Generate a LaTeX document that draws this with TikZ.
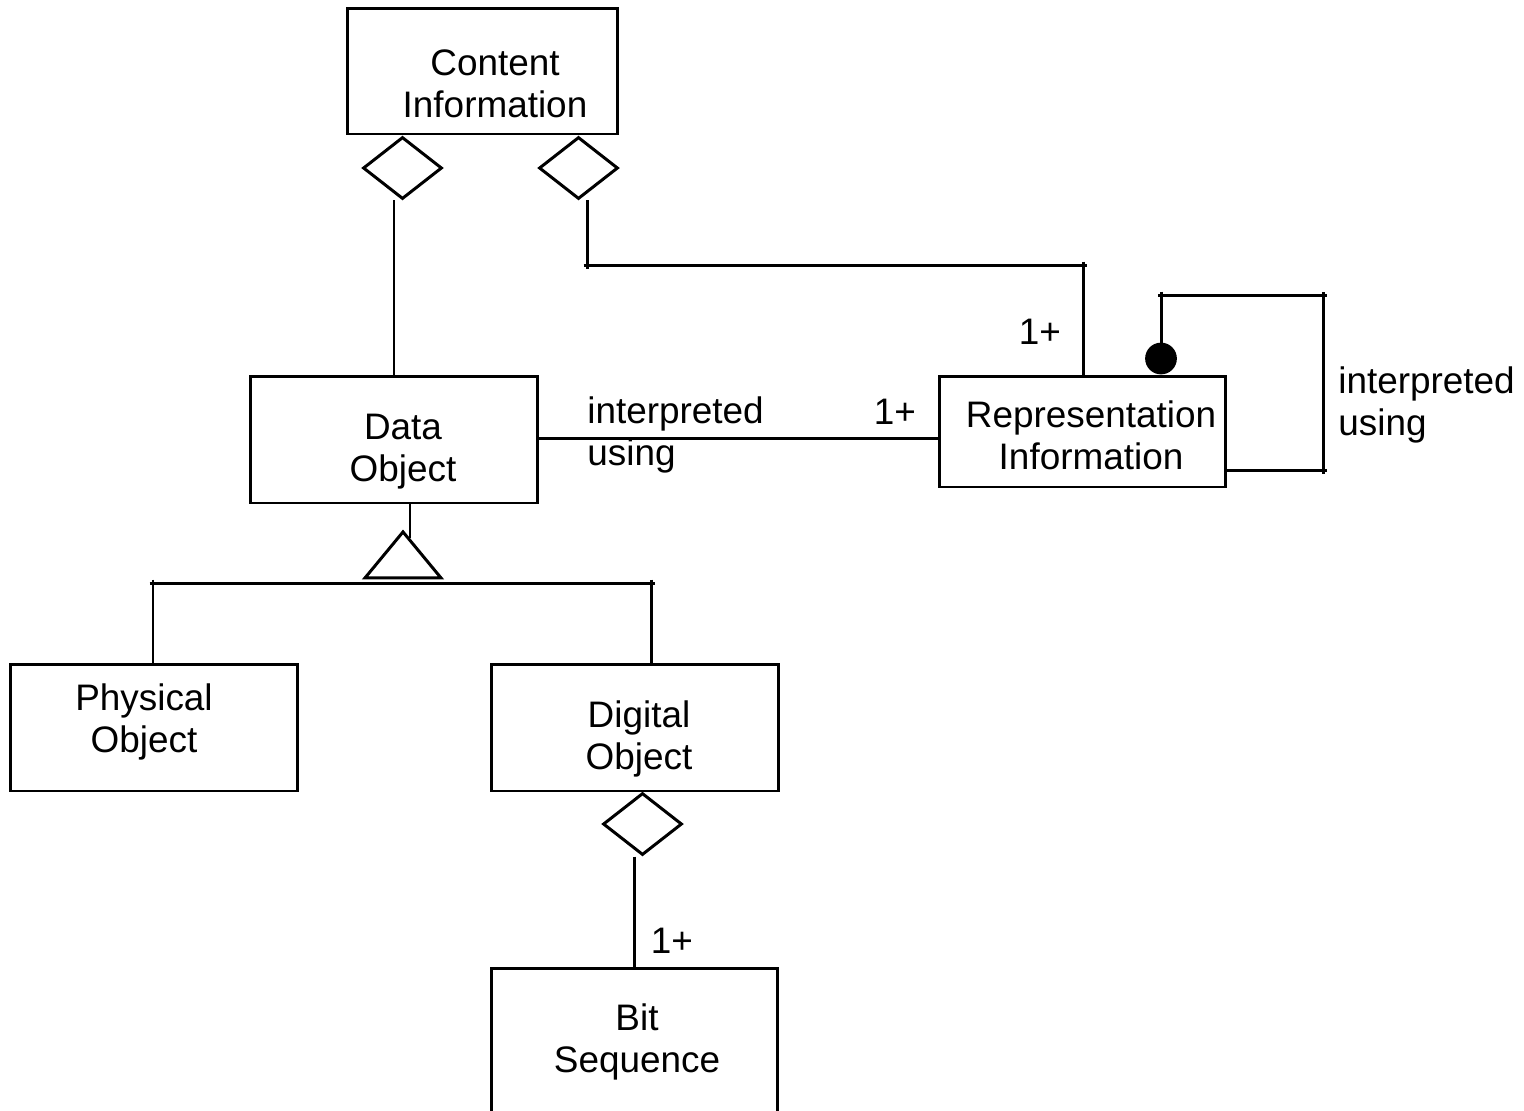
\documentclass[tikz,border=0pt]{standalone}
\usepackage{fontspec}
\setmainfont{Liberation Sans}
\usetikzlibrary{shapes.geometric, positioning}

\begin{document}
\begin{tikzpicture}[
    x=0.02cm, y=-0.02cm,
    every node/.style={font=\fontsize{21}{24}\selectfont},
    box/.style={rectangle, draw, line width=1.7pt, minimum width=5.76cm, minimum height=2.54cm},
    txt/.style={align=center, inner sep=0pt},
    lbl/.style={align=left, inner sep=0pt},
    agg/.style={diamond, draw, line width=1.7pt, fill=white, minimum width=1.58cm, minimum height=1.24cm, inner sep=0pt},
    gen/.style={isosceles triangle, shape border rotate=90, draw, line width=1.7pt, fill=white, minimum width=1.52cm, minimum height=0.92cm, isosceles triangle stretches, inner sep=0pt},
    conn/.style={line width=1.7pt},
    tick/.style={shorten <=-0.07cm},
    tock/.style={shorten >=-0.07cm}
]
\useasboundingbox (0,0) rectangle (1524,1110);
\clip (0,0) rectangle (1524,1110);

% Boxes
\node[box, minimum width=5.42cm, minimum height=2.52cm] (content) at (482.5,71) {};
\node[box] (data) at (394,439.5) {};
\node[box, minimum width=5.74cm, minimum height=2.22cm] (repr) at (1082.5,431.5) {};
\node[box] (physical) at (154,727.5) {};
\node[box] (digital) at (635,727.5) {};
\node[box, minimum width=5.74cm, minimum height=3.4cm] (bits) at (634.5,1053) {};

% Box texts
\node[txt] (content-txt) at (495,84) {Content\\Information};
\node[txt] (data-txt) at (403,452) {Data\\Object};
\node[txt] (repr-txt) at (1091,435) {Representation\\Information};
\node[txt] (physical-txt) at (144,722) {Physical\\Object};
\node[txt] (digital-txt) at (639,739) {Digital\\Object};
\node[txt] (bits-txt) at (637,1042) {Bit\\Sequence};

% Aggregation diamonds and generalization triangle
\node[agg] (agg-data) at (402.5,168) {};
\node[agg] (agg-repr) at (578.5,168) {};
\node[agg] (agg-bits) at (642.5,824) {};

% Corner points
\coordinate (c1) at (587,265);
\coordinate (c2) at (1083,265);
\coordinate (c3) at (1323,470);
\coordinate (c4) at (1323,295);
\coordinate (c5) at (1161,295);
\coordinate (c6) at (153,583);
\coordinate (c7) at (651,583);

% Connectors
\draw[conn] (agg-data.south -| 394,0) -- (data.north -| 394,0);
\draw[conn, tock] (agg-repr.south -| c1) -- (c1);
\draw[conn, tick, tock] (c1) -- (c2);
\draw[conn, tick] (c2) -- (repr.north -| c2);
\draw[conn] (data.east |- 0,438) -- (repr.west |- 0,438);
\draw[conn, tock] (repr.east |- c3) -- (c3);
\draw[conn, tick, tock] (c3) -- (c4);
\draw[conn, tick, tock] (c4) -- (c5);
\draw[conn, tick] (c5) -- (1161,343);
\filldraw[line width=1pt] (1161,358.5) circle (0.3cm);
\draw[conn] (data.south -| 410,0) -- (410,538);
\draw[conn, tick, tock] (c6) -- (c7);
\draw[conn, tick] (c6) -- (physical.north -| c6);
\draw[conn, tick] (c7) -- (digital.north -| c7);
\node[gen] (gen-data) at (403,560) {};
\draw[conn] (agg-bits.south -| 634,0) -- (bits.north -| 634,0);

% Labels
\node[lbl, anchor=west] (lbl-use) at (587,435) {interpreted\\using};
\node[lbl] (lbl-one) at (895,412) {1+};
\node[lbl] (lbl-top) at (1040,332) {1+};
\node[lbl, anchor=west] (lbl-self) at (1338,405) {interpreted\\using};
\node[lbl] (lbl-bits) at (672,941) {1+};

\end{tikzpicture}
\end{document}
